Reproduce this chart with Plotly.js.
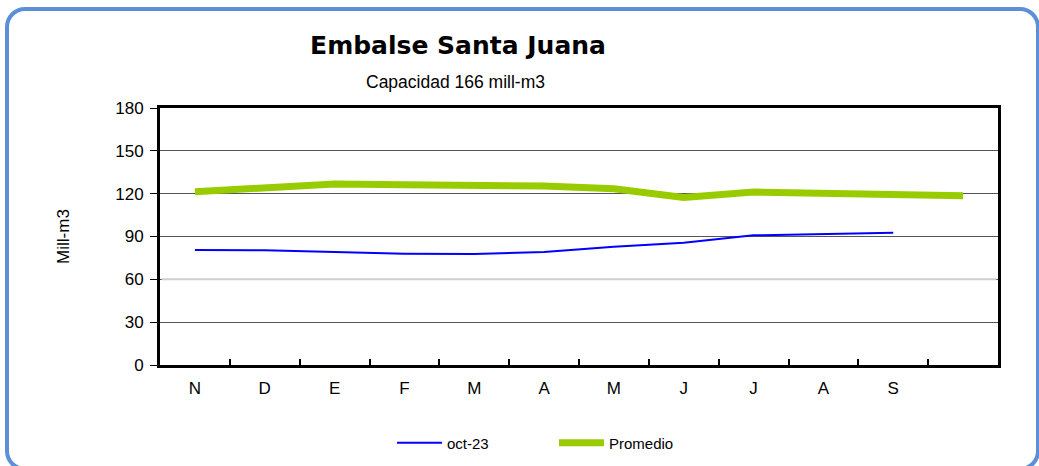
<!DOCTYPE html>
<html>
<head>
<meta charset="utf-8">
<script src="https://cdn.plot.ly/plotly-3.0.1.min.js"></script>
<style>
  html, body { margin: 0; padding: 0; background: #ffffff; }
  #wrap { position: relative; width: 1039px; height: 466px; overflow: hidden; background: #ffffff; }
  #frame { position: absolute; left: 5px; top: 7px; width: 1035px; height: 464px;
           border: 4px solid #5b90d8; border-radius: 20px; background: #ffffff; box-sizing: border-box; }
  #chart { position: absolute; left: 0; top: 0; width: 1039px; height: 466px; }
</style>
</head>
<body>
<div id="wrap">
  <div id="frame"></div>
  <div id="chart"></div>
</div>
<script>
const months = ["N", "D", "E", "F", "M", "A", "M ", "J", "J ", "A ", "S", "O"];
const monthLabels = ["N", "D", "E", "F", "M", "A", "M", "J", "J", "A", "S", ""];
const oct23 = [80.5, 80.4, 79.1, 77.9, 77.7, 79.1, 82.8, 85.6, 90.8, 91.9, 92.6, null];
const promedio = [121.4, 124.2, 126.8, 126.3, 126.0, 125.3, 123.5, 117.4, 121.1, 120.2, 118.6, 118.6];
const yTicks = [0, 30, 60, 90, 120, 150, 180];

const traces = [
  { x: months, y: oct23, name: "oct-23", type: "scatter", mode: "lines",
    line: { color: "#0000ff", width: 2 }, connectgaps: false },
  { x: months, y: promedio, name: "Promedio", type: "scatter", mode: "lines",
    line: { color: "#99cc00", width: 7 } }
];

const layout = {
  width: 1039, height: 466,
  paper_bgcolor: "rgba(0,0,0,0)", plot_bgcolor: "#ffffff",
  margin: { l: 160, r: 41, t: 108, b: 101 },
  font: { family: "Liberation Sans, Arial, sans-serif", color: "#000000", size: 16 },
  title: { text: "Embalse Santa Juana", x: 458 / 1039, xanchor: "center", y: 1 - 45 / 466, yanchor: "middle",
           xref: "container", yref: "container",
           font: { family: "DejaVu Sans, Verdana, sans-serif", size: 25, weight: "bold", color: "#000000" } },
  annotations: [
    { text: "Capacidad 166 mill-m3", xref: "paper", yref: "paper", x: (455 - 160) / 838, y: 1 + (108 - 82) / 257,
      xanchor: "center", yanchor: "middle", showarrow: false,
      font: { family: "Liberation Sans, Arial, sans-serif", size: 17.5, color: "#000000" } }
  ],
  xaxis: {
    type: "category", categoryorder: "array", categoryarray: months, range: [-0.5, 11.5],
    tickmode: "array", tickvals: months, ticktext: monthLabels,
    tickson: "boundaries", ticks: "inside", ticklen: 6, tickwidth: 2, tickcolor: "#000000",
    showline: true, linecolor: "#000000", linewidth: 3, mirror: true,
    showgrid: false, zeroline: false, fixedrange: true,
    ticklabelstandoff: 6,
    tickfont: { size: 17, color: "#000000" }
  },
  yaxis: {
    range: [0, 180], tickmode: "array", tickvals: yTicks,
    ticks: "outside", ticklen: 7, tickwidth: 1, tickcolor: "#000000",
    showline: true, linecolor: "#000000", linewidth: 3, mirror: true,
    showgrid: true, gridcolor: "#555555", gridwidth: 1, zeroline: false,
    ticklabelstandoff: 3,
    tickfont: { size: 17, color: "#000000" },
    title: { text: "Mill-m3", standoff: 42, font: { size: 17, color: "#000000" } }
  },
  shapes: [
    { type: "line", xref: "paper", yref: "y", x0: 0.002, x1: 0.998, y0: 60, y1: 60, layer: "above",
      line: { color: "#cfcfcf", width: 2 } }
  ],
  showlegend: true,
  legend: {
    orientation: "h", xref: "container", yref: "container",
    x: 392 / 1039, xanchor: "left", y: 1 - 443 / 466, yanchor: "middle",
    entrywidth: 102, entrywidthmode: "pixels", itemwidth: 45,
    font: { size: 15, color: "#000000" }, bgcolor: "rgba(0,0,0,0)"
  }
};

Plotly.newPlot("chart", traces, layout, { displayModeBar: false, staticPlot: true });
</script>
</body>
</html>
